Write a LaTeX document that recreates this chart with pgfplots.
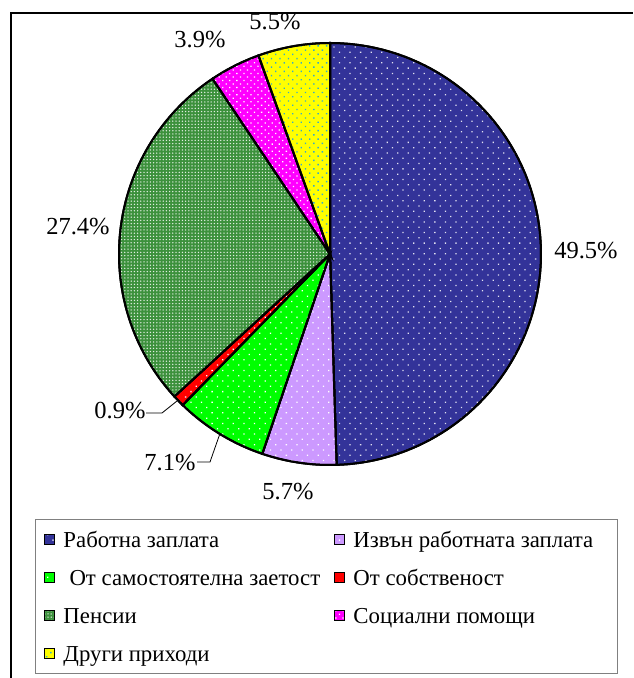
\documentclass[border=0pt]{standalone}
\usepackage{pgfplots}
\pgfplotsset{compat=1.18}
\usetikzlibrary{patterns.meta}
\usepackage{fontspec}
\setmainfont{Liberation Serif}
\definecolor{cBlue}{RGB}{51,51,153}
\definecolor{cLav}{RGB}{204,153,255}
\definecolor{cGreen}{RGB}{0,255,0}
\definecolor{cRed}{RGB}{255,0,0}
\definecolor{cPens}{RGB}{60,145,60}
\definecolor{cMag}{RGB}{255,0,255}
\definecolor{cYel}{RGB}{255,255,0}
\definecolor{cTeal}{RGB}{51,170,204}
\newcommand{\lab}{\fontsize{24.5pt}{28pt}\selectfont}
\newcommand{\leg}{\fontsize{22.8pt}{25pt}\selectfont}
\newcommand{\st}{\rule[-6pt]{0pt}{23pt}}
\begin{document}
\begin{tikzpicture}
\begin{axis}[
  name=ax,
  scale only axis, width=633pt, height=678pt,
  xmin=0, xmax=633, ymin=0, ymax=678,
  hide axis, clip=false,
  legend columns=2,
  legend cell align=left,
  legend style={at={(axis cs:35,159)}, anchor=north west, draw=gray, line width=1pt,
    fill=white, inner xsep=8pt, inner ysep=10.7pt, row sep=19.5pt, column sep=0pt,
    font=\leg, nodes={inner sep=0pt}},
  legend image code/.code={\draw[#1, line width=1pt] (0pt,-5pt) rectangle (10pt,5pt);},
  every axis plot/.append style={draw=black, line width=2pt, samples=120},
]
% slices: domain = cumulative percentages, clockwise from 12 o'clock
\addplot[fill=cBlue, postaction={pattern={Dots[distance=7.5pt,radius=0.9pt,angle=45]}, pattern color=white!85!cBlue}, domain=0:49.5]
  ({330+211*cos(90-3.6*x)},{424+211*sin(90-3.6*x)}) -- (axis cs:330,424) -- cycle;
\addlegendentry{\makebox[280pt][l]{\st\hspace{9pt}Работна заплата}}
\addplot[fill=cLav, postaction={pattern={Dots[distance=7.5pt,radius=0.9pt,angle=45]}, pattern color=white}, domain=49.5:55.2]
  ({330+211*cos(90-3.6*x)},{424+211*sin(90-3.6*x)}) -- (axis cs:330,424) -- cycle;
\addlegendentry{\makebox[264pt][l]{\st\hspace{8pt}Извън работната заплата}}
\addplot[fill=cGreen, postaction={pattern={Dots[distance=7.5pt,radius=0.9pt,angle=45]}, pattern color=white}, domain=55.2:62.3]
  ({330+211*cos(90-3.6*x)},{424+211*sin(90-3.6*x)}) -- (axis cs:330,424) -- cycle;
\addlegendentry{\makebox[280pt][l]{\st\hspace{15pt}От самостоятелна заетост}}
\addplot[fill=cRed, postaction={pattern={Dots[distance=7.5pt,radius=0.9pt,angle=45]}, pattern color=white}, domain=62.3:63.2]
  ({330+211*cos(90-3.6*x)},{424+211*sin(90-3.6*x)}) -- (axis cs:330,424) -- cycle;
\addlegendentry{\makebox[264pt][l]{\st\hspace{8pt}От собственост}}
\addplot[fill=cPens, postaction={pattern={Dots[distance=3.2pt,radius=0.75pt]}, pattern color=white!85!cPens}, domain=63.2:90.6]
  ({330+211*cos(90-3.6*x)},{424+211*sin(90-3.6*x)}) -- (axis cs:330,424) -- cycle;
\addlegendentry{\makebox[280pt][l]{\st\hspace{9pt}Пенсии}}
\addplot[fill=cMag, postaction={pattern={Dots[distance=5pt,radius=0.9pt,angle=45]}, pattern color=white}, domain=90.6:94.5]
  ({330+211*cos(90-3.6*x)},{424+211*sin(90-3.6*x)}) -- (axis cs:330,424) -- cycle;
\addlegendentry{\makebox[264pt][l]{\st\hspace{8pt}Социални помощи}}
\addplot[fill=cYel, postaction={pattern={Dots[distance=6pt,radius=1pt,angle=45]}, pattern color=cTeal}, domain=94.5:100]
  ({330+211*cos(90-3.6*x)},{424+211*sin(90-3.6*x)}) -- (axis cs:330,424) -- cycle;
\addlegendentry{\makebox[280pt][l]{\st\hspace{9pt}Други приходи}}
% leader lines
\addplot[forget plot, line width=0.8pt, draw=black] coordinates {(197,216) (210,216) (219.8,244)};
\addplot[forget plot, line width=0.8pt, draw=black] coordinates {(146,265) (162,265) (177,277)};
% labels
\node[font=\lab] at (axis cs:586,427) {49.5\%};
\node[font=\lab] at (axis cs:288,186) {5.7\%};
\node[font=\lab] at (axis cs:170,215) {7.1\%};
\node[font=\lab] at (axis cs:120,267) {0.9\%};
\node[font=\lab] at (axis cs:78,451) {27.4\%};
\node[font=\lab] at (axis cs:200,638) {3.9\%};
\node[font=\lab] at (axis cs:275,656) {5.5\%};
% frame
\draw[line width=1.5pt] (axis cs:11,0) -- (axis cs:11,665) -- (axis cs:633,665);
\end{axis}
\pgfresetboundingbox
\path[use as bounding box] (ax.south west) rectangle (ax.north east);
\end{tikzpicture}
\end{document}
